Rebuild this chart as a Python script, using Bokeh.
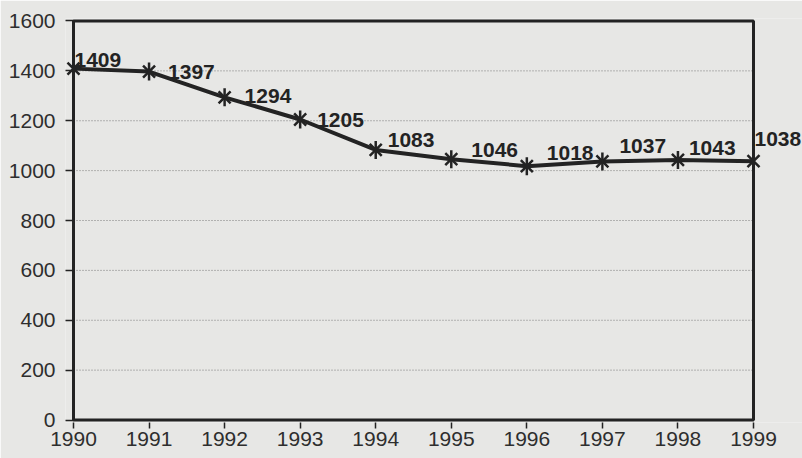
from bokeh.plotting import figure
from bokeh.models import Range1d, FixedTicker, BoxAnnotation, ColumnDataSource
from bokeh.core.properties import value
from bokeh.embed import file_html
from bokeh.resources import INLINE
import math

# ---- data ----
years = [1990, 1991, 1992, 1993, 1994, 1995, 1996, 1997, 1998, 1999]
values = [1409, 1397, 1294, 1205, 1083, 1046, 1018, 1037, 1043, 1038]
y_ticks = [0, 200, 400, 600, 800, 1000, 1200, 1400, 1600]
point_labels = [str(v) for v in values]

BG = "#e7e7e5"
INK = "#232323"
FONT = "Liberation Sans"

# screen offsets for the value labels (px)
label_dx = [1, 19, 20, 17, 12, 20, 20, 17, 11, 1]
label_dy = [-9, 0, -1, 0, -10, -9, -13, -15, -12, -22]

W, H = 802, 458
LEFT = 65
px_per_year = 680 / 9.0
x_start = years[0] - 8 / px_per_year
x_end = x_start + (W - LEFT) / px_per_year

p = figure(width=W, height=H, output_backend="svg", toolbar_location=None,
           x_range=Range1d(x_start, x_end), y_range=Range1d(-10, 1610),
           min_border_left=LEFT, min_border_right=0, min_border_top=18, min_border_bottom=36,
           background_fill_color=BG, border_fill_color=BG, outline_line_color=None)

p.xgrid.visible = False
p.ygrid.visible = False

# dotted grid lines inside the box
n_inner = len(y_ticks) - 2
grid_src = ColumnDataSource(dict(x0=[years[0]] * n_inner, x1=[years[-1]] * n_inner,
                                 y=y_ticks[1:-1]))
p.segment(x0="x0", x1="x1", y0="y", y1="y", source=grid_src,
          line_color="#7a7a7a", line_width=1, line_dash="1 2")

# frame box
box = BoxAnnotation(left=years[0], right=years[-1], bottom=y_ticks[0], top=y_ticks[-1],
                    fill_color=None, fill_alpha=0, line_color=INK, line_alpha=1, line_width=3)
p.add_layout(box)

# axes
p.xaxis.ticker = FixedTicker(ticks=years)
p.xaxis.bounds = (years[0], years[-1])
p.xaxis.axis_line_color = None
p.xaxis.major_tick_out = 6
p.xaxis.major_tick_in = 0
p.xaxis.minor_tick_line_color = None
p.xaxis.major_tick_line_color = INK
p.xaxis.major_tick_line_width = 1.5
p.xaxis.major_label_standoff = 3

p.yaxis.ticker = FixedTicker(ticks=y_ticks)
p.yaxis.axis_line_color = None
p.yaxis.major_tick_in = 8
p.yaxis.major_tick_out = 0
p.yaxis.minor_tick_line_color = None
p.yaxis.major_tick_line_color = INK
p.yaxis.major_tick_line_width = 1.5
p.yaxis.major_label_standoff = 10

for ax in (p.xaxis, p.yaxis):
    ax.major_label_text_font = FONT
    ax.major_label_text_font_size = "21px"
    ax.major_label_text_color = "#2e2e2e"

src = ColumnDataSource(dict(x=years, y=values, label=point_labels, dx=label_dx, dy=label_dy))

p.line("x", "y", source=src, line_color=INK, line_width=4)
p.scatter("x", "y", source=src, marker="x", size=17, line_color=INK, line_width=2.5)
p.scatter("x", "y", source=src, marker="dash", size=18, angle=math.pi / 2,
          line_color=INK, line_width=2.5)

p.text("x", "y", text="label", source=src, x_offset="dx", y_offset="dy",
       text_font=value(FONT), text_font_style="bold", text_font_size="21px",
       text_color=INK, text_align="left", text_baseline="middle")

html = file_html(p, INLINE)
html = html.replace("<body>", '<body style="margin:0;overflow:hidden;background:%s;">' % BG, 1)
open("out.html", "w").write(html)
